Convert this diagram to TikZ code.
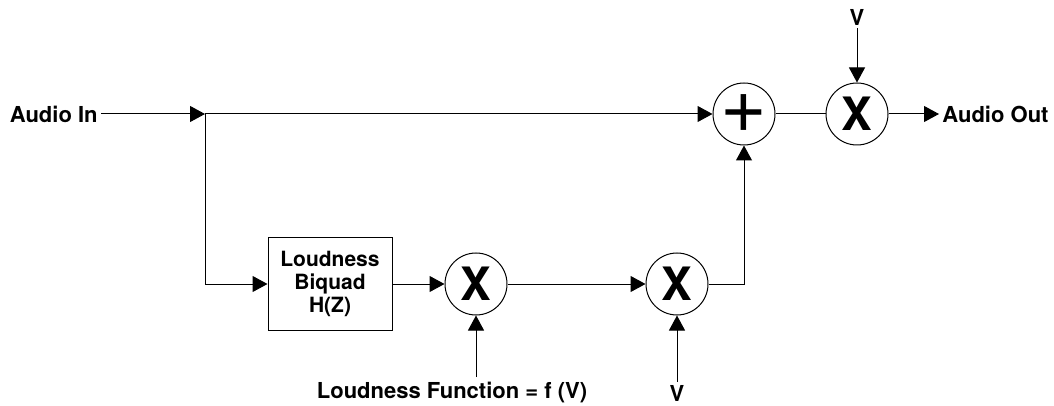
\documentclass[tikz,border=0pt]{standalone}
\usepackage{fontspec}
\setmainfont{TeX Gyre Heros}
\usetikzlibrary{arrows.meta}
\begin{document}
\begin{tikzpicture}[x=0.5pt,y=-0.5pt,
    sig/.style={-{Triangle[length=7.5pt,width=8pt]}, line width=0.5pt},
    wire/.style={line width=0.5pt},
    lbl/.style={font=\fontsize{11}{12}\selectfont\bfseries, inner sep=1.5pt},
    opcirc/.style={circle, draw, line width=0.5pt, minimum size=31pt, inner sep=0pt},
    biquad/.style={draw, line width=0.5pt, minimum width=62pt, minimum height=46pt,
        align=center, font=\fontsize{10.5}{11.5}\selectfont\bfseries}]
    \useasboundingbox (0,0) rectangle (1054,406);
    % signal path
    \node[lbl, anchor=east] (in)  at (101,114) {Audio In};
    \coordinate (split) at (205,114);
    \node[biquad] (bq) at (330,284) {Loudness\\Biquad\\H(Z)};
    \node[opcirc, font=\fontsize{23}{23}\selectfont\bfseries] (mul1) at (476,284) {X};
    \node[opcirc, font=\fontsize{23}{23}\selectfont\bfseries] (mul2) at (677,284) {X};
    \node[opcirc, font=\fontsize{40}{40}\selectfont] (sum)  at (744,114) {+};
    \node[opcirc, font=\fontsize{23}{23}\selectfont\bfseries] (mul3) at (857,114) {X};
    \node[lbl, anchor=west] (out) at (939,114) {Audio Out};
    % control inputs
    \node[lbl] (vtop) at (857,17) {V};
    \node[lbl] (lf)   at (452,393) {Loudness Function = f (V)};
    \node[lbl] (vbot) at (677,393) {V};
    \coordinate (lfin) at (476,377);
    \draw[sig] (in) -- (split);
    \draw[sig] (split) -- (sum);
    \draw[sig] (split) |- (bq);
    \draw[sig] (bq) -- (mul1);
    \draw[sig] (mul1) -- (mul2);
    \draw[sig] (mul2.east) -| (sum.south);
    \draw[wire] (sum) -- (mul3);
    \draw[sig] (mul3) -- (out);
    \draw[sig] (vtop) -- (mul3);
    \draw[sig] (lfin) -- (mul1);
    \draw[sig] (vbot) -- (mul2);
\end{tikzpicture}
\end{document}
